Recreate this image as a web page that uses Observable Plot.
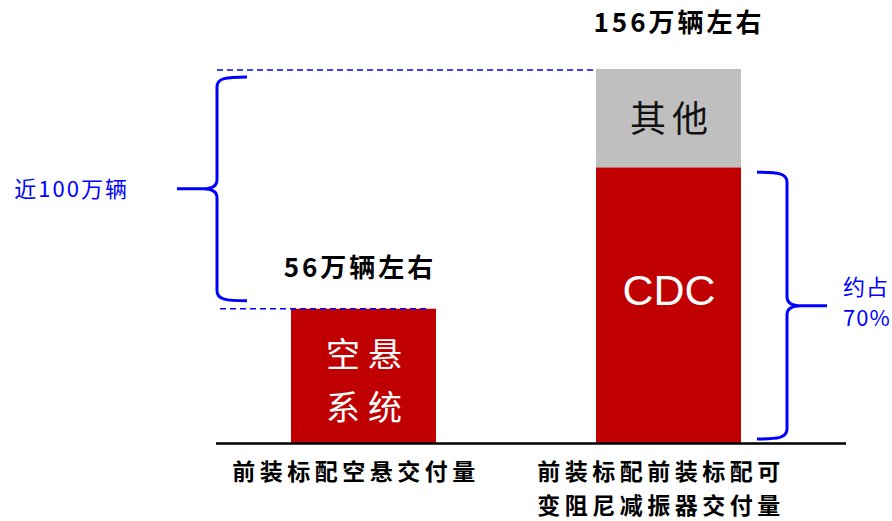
<!DOCTYPE html>
<html><head><meta charset="utf-8">
<script src="https://cdn.jsdelivr.net/npm/d3@7"></script>
<script src="https://cdn.jsdelivr.net/npm/@observablehq/plot@0.6"></script>
<style>
body{margin:0;background:#fff;overflow:hidden;}
g[aria-label="x-axis tick label"] text{letter-spacing:4.5px;}
.lbl-ks text{letter-spacing:8px;}
.lbl-total text{letter-spacing:3px;}
.lbl-other text{letter-spacing:6px;}
</style></head><body><div id="chart"></div>
<script>
// ---- data ----
const categories = ["前装标配空悬交付量", "前装标配前装标配可\n变阻尼减振器交付量"];
const segmentNames = ["空悬系统", "CDC", "其他"];
const segmentCategory = [0, 1, 1];
const segmentValues = [56, 115, 41];
const segmentColors = ["#C00000", "#C00000", "#BFBFBF"];
const segmentLabels = ["空悬\n系统", "CDC", "其他"];
const totalValues = [56, 156];
const totalLabels = ["56万辆左右", "156万辆左右"];
const braceFrom = [56, 0];
const braceTo = [156, 115];
const braceLabels = ["近100万辆", "约占\n70%"];
const blue = "#0000FF";

// ---- derived table ----
const baseByCat = {};
const rows = segmentNames.map((name, i) => {
  const cat = categories[segmentCategory[i]];
  const base = baseByCat[cat] || 0;
  baseByCat[cat] = base + segmentValues[i];
  return {name, cat, value: segmentValues[i], color: segmentColors[i], label: segmentLabels[i], mid: base + segmentValues[i] / 2};
});
const totals = totalValues.map((v, i) => ({cat: categories[i], value: v, label: totalLabels[i]}));

function bracePath(xv, top, bottom, dir) {
  const mid = (top + bottom) / 2, a = 30 * dir, t = -40 * dir;
  return `M${xv + a},${top} C${xv + a * 0.3},${top} ${xv},${top + 1} ${xv},${top + 10} L${xv},${mid - 9} ` +
    `C${xv},${mid - 3} ${xv - 4 * dir},${mid} ${xv - 14 * dir},${mid} L${xv + t},${mid} ` +
    `M${xv - 14 * dir},${mid} C${xv - 4 * dir},${mid} ${xv},${mid + 3} ${xv},${mid + 9} ` +
    `L${xv},${bottom - 10} C${xv},${bottom - 1} ${xv + a * 0.3},${bottom} ${xv + a},${bottom}`;
}

function annotate(index, scales, values, dims) {
  const x = scales.x, y = scales.y;
  const bw = x.bandwidth ? x.bandwidth() : 145;
  const L = dims.marginLeft;
  const g = d3.create("svg:g");
  // dashed guide lines
  g.append("line").attr("x1", L + 1).attr("x2", x(categories[1]) - 3)
    .attr("y1", y(totalValues[1]) + 1).attr("y2", y(totalValues[1]) + 1)
    .attr("stroke", blue).attr("stroke-width", 1.5).attr("stroke-dasharray", "6,4");
  g.append("line").attr("x1", L + 4).attr("x2", x(categories[0]) + bw - 8)
    .attr("y1", y(totalValues[0])).attr("y2", y(totalValues[0]))
    .attr("stroke", blue).attr("stroke-width", 1.5).attr("stroke-dasharray", "6,4");
  // left brace
  const lx = L + 1, lTop = y(braceTo[0]) + 8, lBot = y(braceFrom[0]) - 8, lMid = (lTop + lBot) / 2;
  g.append("path").attr("d", bracePath(lx, lTop, lBot, 1)).attr("fill", "none").attr("stroke", blue).attr("stroke-width", 3);
  g.append("text").attr("x", lx - 88).attr("y", lMid).attr("dy", "0.35em").attr("text-anchor", "end")
    .attr("fill", blue).attr("font-size", 22).style("letter-spacing", "2px").text(braceLabels[0]);
  // right brace
  const rx = x(categories[1]) + bw + 46, rTop = y(braceTo[1]) + 5, rBot = y(braceFrom[1]) - 4, rMid = (rTop + rBot) / 2;
  g.append("path").attr("d", bracePath(rx, rTop, rBot, -1)).attr("fill", "none").attr("stroke", blue).attr("stroke-width", 3);
  const lines = braceLabels[1].split("\n");
  lines.forEach((s, i) => {
    g.append("text").attr("x", rx + 56).attr("y", rMid - 18 + i * 31).attr("dy", "0.35em")
      .attr("text-anchor", "start")
      .attr("fill", blue).attr("font-size", 22).style("letter-spacing", "1px").text(s);
  });
  return g.node();
}

const font = "'Noto Sans CJK SC', 'Noto Sans', sans-serif";
const plot = Plot.plot({
  width: 892, height: 521,
  marginLeft: 216, marginRight: 46, marginTop: 69, marginBottom: 78,
  style: {fontFamily: font, background: "#fff", overflow: "visible"},
  x: {domain: categories, paddingInner: 160 / 305, paddingOuter: 90 / 305, align: 75 / 180},
  y: {domain: [0, 156], axis: null},
  color: {type: "identity"},
  marks: [
    Plot.barY(rows, {x: "cat", y: "value", fill: "color"}),
    Plot.ruleY([0], {stroke: "#000", strokeWidth: 2.5}),
    Plot.axisX({tickSize: 0, tickPadding: 13, fontSize: 23, fontWeight: "bold", lineHeight: 1.46, fill: "#000", label: null, dx: -8}),
    Plot.text(rows.filter(d => d.name === "CDC"), {x: "cat", y: "mid", text: "label", fill: "#fff", fontSize: 43, fontFamily: "'Liberation Sans', Arial, sans-serif", dy: -14}),
    Plot.text(rows.filter(d => d.name === "其他"), {x: "cat", y: "mid", text: "label", fill: "#111", fontSize: 36, dy: 2, dx: 3, className: "lbl-other"}),
    Plot.text(rows.filter(d => d.name === "空悬系统"), {x: "cat", y: "mid", text: "label", fill: "#fff", fontSize: 34, lineHeight: 1.55, dx: 4, className: "lbl-ks"}),
    Plot.text(totals.slice(0, 1), {x: "cat", y: "value", text: "label", fill: "#000", fontSize: 26, fontWeight: "bold", dy: -41, dx: -4, className: "lbl-total"}),
    Plot.text(totals.slice(1, 2), {x: "cat", y: "value", text: "label", fill: "#000", fontSize: 26, fontWeight: "bold", dy: -46, dx: 10, className: "lbl-total"}),
    annotate
  ]
});
document.getElementById("chart").appendChild(plot);
</script>
</body></html>
